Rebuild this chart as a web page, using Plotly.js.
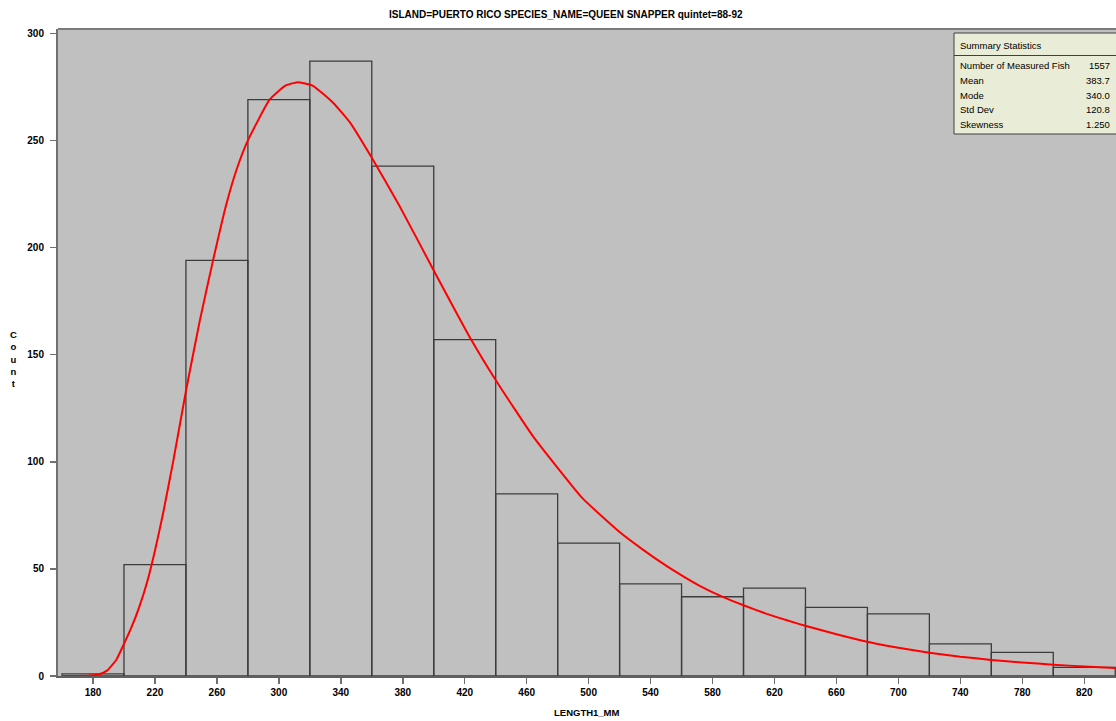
<!DOCTYPE html>
<html>
<head>
<meta charset="utf-8">
<script src="https://cdn.plot.ly/plotly-3.0.1.min.js"></script>
<style>
html,body{margin:0;padding:0;background:#fff;}
#chart{width:1116px;height:721px;}
</style>
</head>
<body>
<div id="chart"></div>
<script>
// Histogram bins (midpoints) and counts
const binMid = [180,220,260,300,340,380,420,460,500,540,580,620,660,700,740,780,820];
const binCount = [1,52,194,269,287,238,157,85,62,43,37,41,32,29,15,11,4];
const binWidth = 40;

// Fitted curve
const curveX = [160,170,178,184,189,195,200,205,210,215,220,225,232,240,249,257.5,266,273,280,294,304,312,322,335,346,360,378,400,423,441,464,496,521,535,550,560,572,587,600,615,628,641,660,680,700,720,740,760,780,800,820,840];
const curveY = [0,0,0.2,0.8,2.5,7.5,15,23,32.5,44,58.5,75,101,133,166,194,220,237,250,269,275.5,277.2,275.5,267.6,258.3,241.9,219.3,189.3,158.5,137,112,83,66.6,59,51.5,47,42,36.8,33,29,26,23.2,19.5,16,13.2,10.9,9,7.5,6.3,5.3,4.4,3.7];

const xTicks = [180,220,260,300,340,380,420,460,500,540,580,620,660,700,740,780,820];
const yTicks = [0,50,100,150,200,250,300];

const titleText = 'ISLAND=PUERTO RICO SPECIES_NAME=QUEEN SNAPPER quintet=88-92';
const xTitle = 'LENGTH1_MM';
const yTitleLetters = ['C','o','u','n','t'];

const statLabels = ['Number of Measured Fish','Mean','Mode','Std Dev','Skewness'];
const statValues = ['1557','383.7','340.0','120.8','1.250'];

const font = 'Liberation Sans, Arial, sans-serif';

const traces = [
  {
    type: 'bar',
    x: binMid,
    y: binCount,
    width: binWidth,
    marker: {color: 'rgba(0,0,0,0)', line: {color: '#3c3c3c', width: 1.3}},
    hoverinfo: 'x+y',
    showlegend: false
  },
  {
    type: 'scatter',
    mode: 'lines',
    x: curveX,
    y: curveY,
    line: {color: '#ff0000', width: 2, shape: 'spline', smoothing: 0.4},
    showlegend: false
  }
];

const annotations = [];
annotations.push({
  xref: 'paper', yref: 'paper', x: 0.48, y: 1, yshift: 15, xanchor: 'center', yanchor: 'middle',
  text: '<b>' + titleText + '</b>', showarrow: false,
  font: {family: font, size: 10, color: '#000'}
});
annotations.push({
  xref: 'paper', yref: 'paper', x: 0.5, y: 0, yshift: -36, xanchor: 'center', yanchor: 'middle',
  text: '<b>' + xTitle + '</b>', showarrow: false,
  font: {family: font, size: 9.5, color: '#000'}
});
annotations.push({
  xref: 'paper', yref: 'paper', x: 0, xshift: -45, y: 0.49, xanchor: 'center', yanchor: 'middle',
  text: '<b>' + yTitleLetters.join('<br>') + '</b>', showarrow: false,
  font: {family: font, size: 9.5, color: '#000'}
});

// Summary statistics box
const boxLeft = 954, boxTop = 33, boxRight = 1118, headerBottom = 55.5, boxBottom = 134;
const pl = 58, pt = 29, pw = 1116 - 58, ph = 676 - 29;
function px(x){ return (x - pl) / pw; }
function py(y){ return 1 - (y - pt) / ph; }

annotations.push({
  xref: 'paper', yref: 'paper', x: px(958), y: py(45.5), xanchor: 'left', yanchor: 'middle',
  text: 'Summary Statistics', showarrow: false, font: {family: font, size: 9.5, color: '#000'}
});
const rowY = [65, 80, 95, 109.5, 124];
statLabels.forEach((lab, i) => {
  annotations.push({
    xref: 'paper', yref: 'paper', x: px(958), y: py(rowY[i]), xanchor: 'left', yanchor: 'middle',
    text: lab, showarrow: false, font: {family: font, size: 9.5, color: '#000'}
  });
  annotations.push({
    xref: 'paper', yref: 'paper', x: px(1112), y: py(rowY[i]), xanchor: 'right', yanchor: 'middle',
    text: statValues[i], showarrow: false, font: {family: font, size: 9.5, color: '#000'}
  });
});

const shapes = [
  // top frame line
  {type: 'line', xref: 'paper', yref: 'paper', x0: 0, x1: 1, y0: 1, y1: 1, line: {color: '#7a7a7a', width: 2}},
  // stats box
  {type: 'rect', xref: 'paper', yref: 'paper', x0: px(boxLeft), x1: px(boxRight), y0: py(boxBottom), y1: py(boxTop),
   fillcolor: '#e9ecd6', line: {color: '#404040', width: 1}},
  {type: 'line', xref: 'paper', yref: 'paper', x0: px(boxLeft), x1: px(boxRight), y0: py(headerBottom), y1: py(headerBottom),
   line: {color: '#404040', width: 1}}
];

const layout = {
  width: 1116, height: 721,
  margin: {l: 58, r: 0, t: 29, b: 45, pad: 0},
  paper_bgcolor: '#ffffff',
  plot_bgcolor: '#c0c0c0',
  bargap: 0,
  showlegend: false,
  xaxis: {
    range: [157.4, 840.5],
    tickvals: xTicks,
    ticktext: xTicks.map(String),
    ticks: 'outside', ticklen: 6, tickwidth: 1.5, tickcolor: '#707070',
    showgrid: false, zeroline: false,
    showline: true, linecolor: '#606060', linewidth: 2,
    tickfont: {family: font, size: 10, color: '#000', weight: 'bold'},
    fixedrange: true
  },
  yaxis: {
    range: [0, 302],
    tickvals: yTicks,
    ticktext: yTicks.map(String),
    ticks: 'outside', ticklen: 6, tickwidth: 1.5, tickcolor: '#707070',
    showgrid: false, zeroline: false,
    showline: true, linecolor: '#707070', linewidth: 2,
    tickfont: {family: font, size: 10, color: '#000', weight: 'bold'},
    ticklabelstandoff: 4,
    fixedrange: true
  },
  annotations: annotations,
  shapes: shapes
};

Plotly.newPlot('chart', traces, layout, {displayModeBar: false, staticPlot: true});
</script>
</body>
</html>
